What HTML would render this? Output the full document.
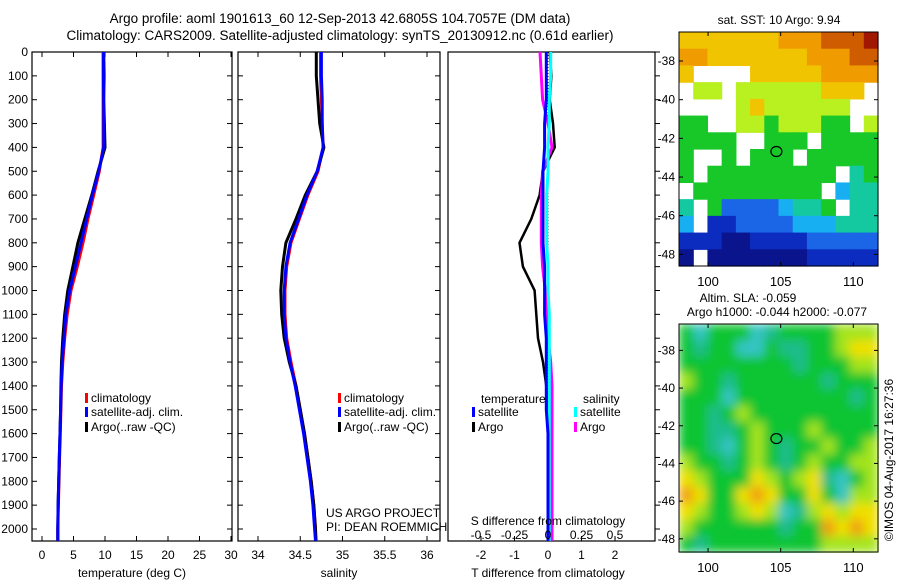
<!DOCTYPE html>
<html><head><meta charset="utf-8"><style>
html,body{margin:0;padding:0;background:#fff;}
svg{display:block;font-family:"Liberation Sans",sans-serif;}
</style></head><body>
<svg id="s" width="900" height="580" viewBox="0 0 900 580">
<defs><filter id="blur" x="0" y="0" width="1" height="1"><feGaussianBlur stdDeviation="5" edgeMode="duplicate"/></filter></defs>
<text x="340" y="23" font-size="13.5" text-anchor="middle">Argo profile: aoml 1901613_60 12-Sep-2013 42.6805S 104.7057E (DM data)</text>
<text x="340" y="40" font-size="13.5" text-anchor="middle">Climatology: CARS2009. Satellite-adjusted climatology: synTS_20130912.nc (0.61d earlier)</text>
<text x="779" y="24" font-size="12" text-anchor="middle">sat. SST: 10 Argo: 9.94</text>
<text x="748" y="302" font-size="12" text-anchor="middle">Altim. SLA: -0.059</text>
<text x="777" y="316" font-size="12" text-anchor="middle">Argo h1000: -0.044 h2000: -0.077</text>
<text transform="translate(893,460) rotate(-90)" font-size="12" text-anchor="middle">©IMOS 04-Aug-2017 16:27:36</text>
<text x="326" y="517" font-size="12">US ARGO PROJECT</text>
<text x="326" y="531" font-size="12">PI: DEAN ROEMMICH</text>
</svg>
<script>
// ---- data ----
const depths=[0,100,200,300,400,500,600,700,800,900,1000,1100,1200,1300,1400,1500,1600,1700,1800,1900,2000,2050];
const depthTicks=[0,100,200,300,400,500,600,700,800,900,1000,1100,1200,1300,1400,1500,1600,1700,1800,1900,2000];
const tClim=[9.7,9.7,9.7,9.7,9.7,9.1,8.2,7.3,6.5,5.6,4.6,4.0,3.6,3.3,3.1,3.0,2.9,2.8,2.7,2.6,2.5,2.5];
const tSat=[9.75,9.75,9.8,9.8,9.8,9.0,8.0,7.1,6.2,5.3,4.4,3.8,3.5,3.2,3.05,2.95,2.85,2.75,2.65,2.55,2.5,2.5];
const tArgo=[9.8,9.85,9.8,9.9,10.0,8.9,7.9,6.8,5.7,4.9,4.1,3.6,3.3,3.1,3.0,2.95,2.85,2.75,2.65,2.55,2.5,2.5];
const sClim=[34.74,34.74,34.75,34.76,34.77,34.71,34.59,34.49,34.39,34.34,34.32,34.32,34.34,34.39,34.45,34.50,34.55,34.59,34.63,34.66,34.68,34.69];
const sSat=[34.75,34.75,34.76,34.76,34.77,34.70,34.58,34.48,34.38,34.33,34.31,34.31,34.33,34.38,34.44,34.49,34.54,34.58,34.62,34.65,34.67,34.68];
const sArgo=[34.69,34.69,34.71,34.73,34.78,34.70,34.56,34.45,34.33,34.29,34.27,34.28,34.31,34.37,34.45,34.50,34.55,34.59,34.63,34.66,34.68,34.68];
const dTArgo=[0.05,0.1,0.05,0.15,0.2,-0.15,-0.25,-0.5,-0.85,-0.75,-0.4,-0.35,-0.3,-0.15,-0.05,0,0,0,0,0,0,0];
const dTSat=[-0.05,-0.05,-0.05,-0.1,-0.1,-0.15,-0.15,-0.15,-0.15,-0.1,-0.1,-0.1,-0.05,-0.05,-0.05,-0.05,0,0,0,0,0,0];
const dSArgo=[-0.06,-0.05,-0.04,0.0,0.03,-0.04,-0.05,-0.05,-0.05,-0.04,-0.02,-0.01,0.0,0.02,0.03,0.03,0.03,0.03,0.03,0.03,0.03,0.03];
const dSSat=[0.02,0.02,0.01,0.01,0.0,0.0,-0.01,-0.01,-0.01,0.0,0.0,0.01,0.01,0.01,0.01,0.01,0.01,0.01,0.01,0.01,0.01,0.01];
const tTicks=[0,5,10,15,20,25,30];
const sTicks=[34,34.5,35,35.5,36];
const sTickLabels=["34","34.5","35","35.5","36"];
const dTTicks=[-2,-1,0,1,2];
const dSTicks=[-0.5,-0.25,0,0.25,0.5];
const dSTickLabels=["-0.5","-0.25","0","0.25","0.5"];
const latTicks=[-38,-40,-42,-44,-46,-48];
const lonTicks=[100,105,110];
const sstGrid=[
[7,7,7,7,7,7,7,8,8,8,9,9,9,10],
[8,8,7,7,7,7,7,7,7,8,8,8,9,9],
[7,null,null,null,null,7,7,7,7,7,8,8,8,8],
[null,6,6,null,6,6,6,6,6,6,7,7,7,null],
[null,null,null,null,6,7,6,6,6,6,6,6,null,null],
[5,5,null,null,6,6,5,6,6,6,5,5,null,6],
[5,5,5,5,null,null,5,5,5,null,5,5,5,5],
[5,null,null,5,null,5,5,5,null,5,5,5,5,5],
[5,null,5,5,5,5,5,5,5,5,5,null,4,5],
[null,5,5,5,5,5,5,5,5,5,null,3,4,4],
[4,null,5,2,2,2,2,3,4,4,5,null,4,4],
[3,null,1,1,2,2,2,2,3,3,3,4,4,4],
[1,1,1,0,0,1,1,1,1,2,2,2,2,2],
[0,null,0,0,0,0,0,0,0,1,1,1,1,1]];
const slaGrid=[
[2,0,2,2,2,0,1,2,2,2,2,3,3,3],
[2,1,2,2,0,0,2,1,1,2,2,3,4,4],
[2,2,2,2,2,2,2,2,1,2,2,2,3,3],
[3,2,2,1,2,2,2,2,2,2,1,2,2,2],
[2,2,2,0,2,2,2,2,2,2,2,2,1,2],
[2,2,1,2,3,2,2,2,2,2,2,2,2,2],
[2,2,1,1,2,3,2,2,2,3,2,2,2,2],
[2,2,1,0,2,3,2,1,2,2,3,2,2,3],
[3,2,2,1,2,3,2,1,2,3,2,2,3,3],
[4,3,2,2,2,4,3,2,3,4,1,0,2,3],
[5,4,2,2,4,5,4,2,2,4,2,0,3,3],
[4,3,2,2,3,4,3,0,1,3,4,3,4,4],
[3,2,2,2,2,2,2,1,2,2,5,4,5,4],
[2,1,2,2,2,2,2,2,2,2,3,3,3,3]];
const argoLon=104.7057, argoLat=-42.6805;

// ---- helpers ----
const NS="http://www.w3.org/2000/svg", svg=document.getElementById('s');
function mk(tag,at,parent){const e=document.createElementNS(NS,tag);for(const k in at)e.setAttribute(k,at[k]);(parent||svg).appendChild(e);return e;}
const Y0=52,Y1=541;
const yD=d=>Y0+d*(529-52)/2000;
function lin(d0,d1,r0,r1){return v=>r0+(v-d0)*(r1-r0)/(d1-d0);}
function panel(name,x0,x1,xs,ticks,labels,opts){
  const g=mk('g',{});
  
  
  const cid='c'+name;
  const cp=mk('clipPath',{id:cid},g);mk('rect',{x:x0,y:Y0,width:x1-x0,height:Y1-Y0},cp);
  const frame=mk('rect',{x:x0,y:Y0,width:x1-x0,height:Y1-Y0,fill:'none',stroke:'#000','stroke-width':1.2},g);
  
  
  depthTicks.forEach(d=>{const y=yD(d);
    if(opts.rightOut) mk('line',{x1:x1,x2:x1+5,y1:y,y2:y,stroke:'#000'},g);
    else {mk('line',{x1:x0,x2:x0+5,y1:y,y2:y,stroke:'#000'},g);mk('line',{x1:x1,x2:x1-5,y1:y,y2:y,stroke:'#000'},g);}
  });
  ticks.forEach((t,i)=>{const x=xs(t);
    mk('line',{x1:x,x2:x,y1:Y1,y2:Y1-5,stroke:'#000'},g);
    if(!opts.noTop) mk('line',{x1:x,x2:x,y1:Y0,y2:Y0+5,stroke:'#000'},g);
    const t2=mk('text',{x:x,y:559,'font-size':12,'text-anchor':'middle'},g);t2.textContent=labels[i];
    
    
  });
  return {g,cid};
}
function line(p,vals,xs,color,w,name){
  let d='';vals.forEach((v,i)=>{d+=(i?'L':'M')+xs(v).toFixed(1)+','+yD(depths[i]).toFixed(1);});
  const e=mk('path',{d:d,fill:'none',stroke:color,'stroke-width':w,'clip-path':'url(#'+p.cid+')'},p.g);
  
  
}
function txt(x,y,s,anchor,name,size){const e=mk('text',{x:x,y:y,'font-size':size||12,'text-anchor':anchor||'start'});e.textContent=s;
  
  return e;}
function legendRow(x,y,color,label,name){
  const m=mk('rect',{x:x,y:y-9,width:3,height:10,fill:color});
  
  
  txt(x+6,y,label,'start',name);
}

depthTicks.forEach(d=>txt(28,yD(d)+4,String(d),'end','depth-tick-label'));

const xT=lin(0,30,42,231);
const p1=panel('temperature-panel',32,232,xT,tTicks,tTicks.map(String),{});
line(p1,tClim,xT,'#f00',3,'temp-climatology-line');
line(p1,tArgo,xT,'#000',3,'temp-argo-line');
line(p1,tSat,xT,'#0000ff',3,'temp-satellite-line');
txt(132,577,'temperature (deg C)','middle','temperature-axis-title');
legendRow(85,402,'#f00','climatology','temp-legend-climatology');
legendRow(85,416,'#00f','satellite-adj. clim.','temp-legend-satellite');
legendRow(85,431,'#000','Argo(..raw -QC)','temp-legend-argo');

const xS=lin(34,36,258,427);
const p2=panel('salinity-panel',238,440,xS,sTicks,sTickLabels,{});
line(p2,sClim,xS,'#f00',3,'sal-climatology-line');
line(p2,sArgo,xS,'#000',3,'sal-argo-line');
line(p2,sSat,xS,'#0000ff',3,'sal-satellite-line');
txt(339,577,'salinity','middle','salinity-axis-title');
legendRow(338,402,'#f00','climatology','sal-legend-climatology');
legendRow(338,416,'#00f','satellite-adj. clim.','sal-legend-satellite');
legendRow(338,431,'#000','Argo(..raw -QC)','sal-legend-argo');

const xDT=lin(-2,2,481,615);
const xDS=v=>xDT(v*4);
const p3=panel('difference-panel',448,655,xDT,dTTicks,dTTicks.map(String),{rightOut:true,noTop:true});
const zl=mk('line',{x1:xDT(0),x2:xDT(0),y1:Y0,y2:Y1,stroke:'#000','stroke-dasharray':'1,2'},p3.g);


line(p3,dTArgo,xDT,'#000',2.5,'tdiff-argo-line');
line(p3,dSArgo,xDS,'#ff00ff',3,'sdiff-argo-line');
line(p3,dSSat,xDS,'#00ffff',3,'sdiff-satellite-line');
line(p3,dTSat,xDT,'#0000ff',3,'tdiff-satellite-line');
dSTicks.forEach((t,i)=>txt(xDS(t),539,dSTickLabels[i],'middle','sdiff-tick-label'));
txt(548,525,'S difference from climatology','middle','sdiff-axis-title');
txt(548,577,'T difference from climatology','middle','tdiff-axis-title');
txt(481,403,'temperature','start','diff-legend-temperature-header');
txt(583,403,'salinity','start','diff-legend-salinity-header');
legendRow(472,416,'#00f','satellite','diff-legend-temp-satellite');
legendRow(472,431,'#000','Argo','diff-legend-temp-argo');
legendRow(574,416,'#0ff','satellite','diff-legend-sal-satellite');
legendRow(574,431,'#f0f','Argo','diff-legend-sal-argo');

const sstColors=['#0a148c','#0c2cc0','#1a66e6','#18aef2','#14c8a0','#18c828','#b8f020','#f0c400','#f09c00','#d05c00','#a01800'];
const slaColors=['#34c4c4','#1cbc8c','#10c430','#a4e41c','#f0e000','#f0a010'];
function map(name,grid,colors,top,bot,latTop,latBot,smooth){
  const L=679,R=878,lon0=98,lon1=111.7;
  const xL=lin(lon0,lon1,L,R), yL=lin(latTop,latBot,top,bot);
  const g=mk('g',{});
  
  
  const cg=mk('g',smooth?{filter:'url(#blur)'}:{},g);
  const rows=grid.length,cols=grid[0].length,cw=(R-L)/cols,ch=(bot-top)/rows;
  grid.forEach((row,r)=>row.forEach((v,c)=>{ if(v===null)return;
    const cell=mk('rect',{x:(L+c*cw).toFixed(2),y:(top+r*ch).toFixed(2),width:(cw+0.6).toFixed(2),height:(ch+0.6).toFixed(2),fill:colors[v]},cg);
    
    
  }));
  const fr=mk('rect',{x:L,y:top,width:R-L,height:bot-top,fill:'none',stroke:'#000'},g);
  
  
  latTicks.forEach(t=>{const y=yL(t);mk('line',{x1:L,x2:L+4,y1:y,y2:y,stroke:'#000'},g);mk('line',{x1:R,x2:R-4,y1:y,y2:y,stroke:'#000'},g);
    txt(L-4,y+4,String(t),'end',name+'-lat-label');});
  lonTicks.forEach(t=>{const x=xL(t);mk('line',{x1:x,x2:x,y1:bot,y2:bot-4,stroke:'#000'},g);mk('line',{x1:x,x2:x,y1:top,y2:top+4,stroke:'#000'},g);
    txt(x,bot+20,String(t),'middle',name+'-lon-label',13);});
  const m=mk('ellipse',{cx:xL(argoLon),cy:yL(argoLat),rx:5.5,ry:5,fill:'none',stroke:'#000','stroke-width':1.2},g);
  
  
}
map('sst-map',sstGrid,sstColors,32,266,-36.5,-48.6,false);
map('sla-map',slaGrid,slaColors,324,552,-36.6,-48.7,true);
</script>
</body></html>
